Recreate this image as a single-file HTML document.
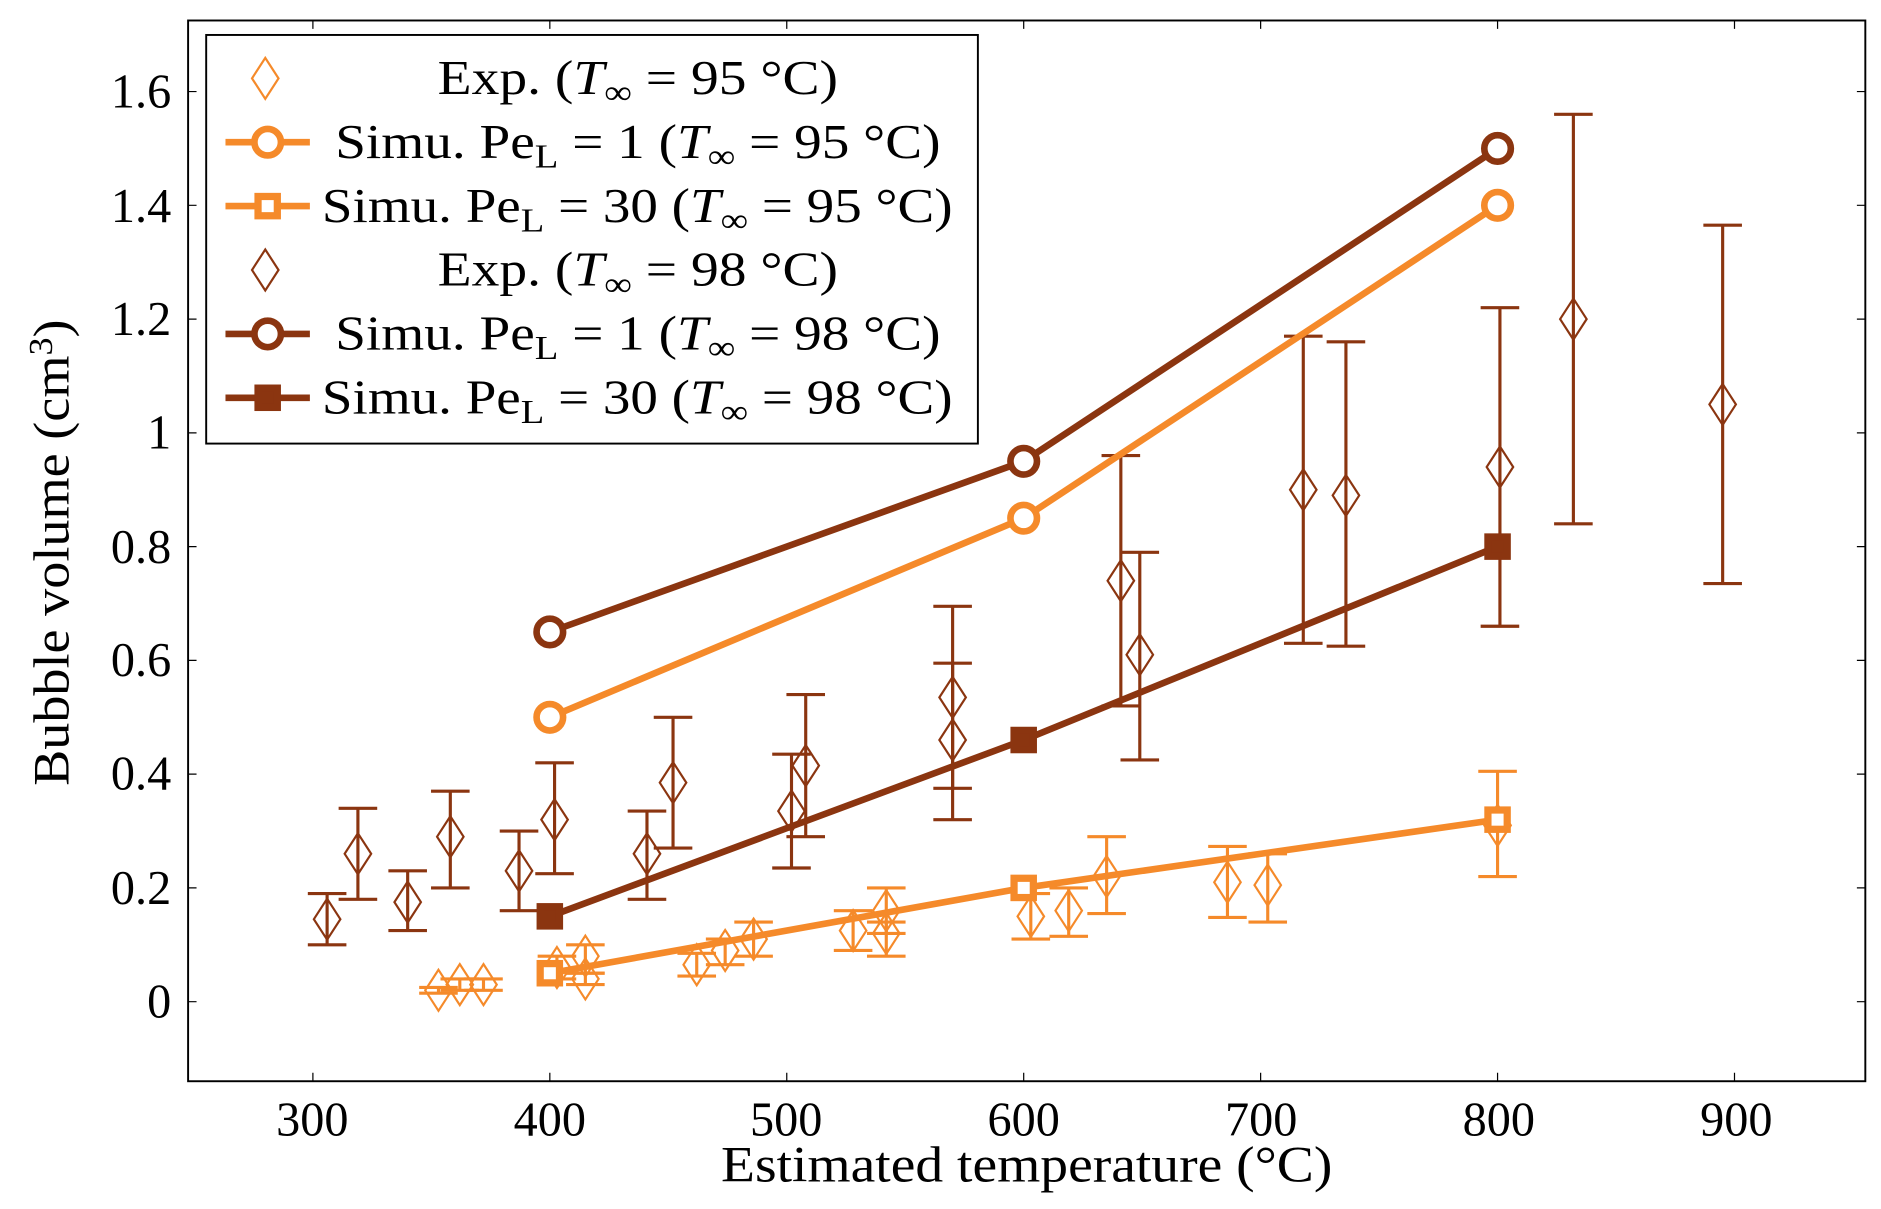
<!DOCTYPE html>
<html><head><meta charset="utf-8"><style>
html,body{margin:0;padding:0;background:#fff}
svg{display:block}
text{font-family:"Liberation Serif",serif;fill:#000}
</style></head><body>
<svg id="s" width="1881" height="1209" viewBox="0 0 1560 1003" preserveAspectRatio="none" xmlns="http://www.w3.org/2000/svg">
<rect x="156" y="17" width="1391" height="880" fill="none" stroke="#000" stroke-width="1.6"/>
<g id="g"></g>
<g font-size="40">
<text x="259" y="942" text-anchor="middle">300</text>
<text x="456" y="942" text-anchor="middle">400</text>
<text x="652" y="942" text-anchor="middle">500</text>
<text x="849" y="942" text-anchor="middle">600</text>
<text x="1046" y="942" text-anchor="middle">700</text>
<text x="1243" y="942" text-anchor="middle">800</text>
<text x="1440" y="942" text-anchor="middle">900</text>
<text x="142" y="844" text-anchor="end">0</text>
<text x="142" y="750" text-anchor="end">0.2</text>
<text x="142" y="655" text-anchor="end">0.4</text>
<text x="142" y="561" text-anchor="end">0.6</text>
<text x="142" y="467" text-anchor="end">0.8</text>
<text x="142" y="372" text-anchor="end">1</text>
<text x="142" y="278" text-anchor="end">1.2</text>
<text x="142" y="184" text-anchor="end">1.4</text>
<text x="142" y="89" text-anchor="end">1.6</text>
</g>
<text x="598" y="980" font-size="42" textLength="507" lengthAdjust="spacingAndGlyphs">Estimated temperature (°C)</text>
<text transform="translate(57,652) rotate(-90)" font-size="42" textLength="387" lengthAdjust="spacingAndGlyphs">Bubble volume (cm<tspan dy="-14" font-size="28">3</tspan><tspan dy="14">)</tspan></text>
<rect x="171" y="29" width="640" height="339" fill="#fff" stroke="#000" stroke-width="1.6"/>
<g id="leg"></g>
<g font-size="40">
<text x="363" y="78" textLength="332" lengthAdjust="spacingAndGlyphs">Exp. (<tspan font-style="italic">T</tspan><tspan font-size="28" dy="8">∞</tspan><tspan dy="-8"> = 95 °C)</tspan></text>
<text x="278" y="131" textLength="502" lengthAdjust="spacingAndGlyphs">Simu. Pe<tspan font-size="28" dy="8">L</tspan><tspan dy="-8"> = 1 (</tspan><tspan font-style="italic">T</tspan><tspan font-size="28" dy="8">∞</tspan><tspan dy="-8"> = 95 °C)</tspan></text>
<text x="267" y="184" textLength="523" lengthAdjust="spacingAndGlyphs">Simu. Pe<tspan font-size="28" dy="8">L</tspan><tspan dy="-8"> = 30 (</tspan><tspan font-style="italic">T</tspan><tspan font-size="28" dy="8">∞</tspan><tspan dy="-8"> = 95 °C)</tspan></text>
<text x="363" y="237" textLength="332" lengthAdjust="spacingAndGlyphs">Exp. (<tspan font-style="italic">T</tspan><tspan font-size="28" dy="8">∞</tspan><tspan dy="-8"> = 98 °C)</tspan></text>
<text x="278" y="290" textLength="502" lengthAdjust="spacingAndGlyphs">Simu. Pe<tspan font-size="28" dy="8">L</tspan><tspan dy="-8"> = 1 (</tspan><tspan font-style="italic">T</tspan><tspan font-size="28" dy="8">∞</tspan><tspan dy="-8"> = 98 °C)</tspan></text>
<text x="267" y="343" textLength="523" lengthAdjust="spacingAndGlyphs">Simu. Pe<tspan font-size="28" dy="8">L</tspan><tspan dy="-8"> = 30 (</tspan><tspan font-style="italic">T</tspan><tspan font-size="28" dy="8">∞</tspan><tspan dy="-8"> = 98 °C)</tspan></text>
</g>
</svg>
<script>
var NS="http://www.w3.org/2000/svg",g=document.getElementById("g"),L=document.getElementById("leg");
var O="#f58a2a",B="#8b3510";
function X(t){return 456+(t-400)*1.965}
function Y(v){return 831-v*471.9}
function el(p,n,a){var e=document.createElementNS(NS,n);for(var k in a)e.setAttribute(k,a[k]);p.appendChild(e);return e}
function dia(p,x,y,c){el(p,"path",{d:"M"+x+","+(y-17)+"L"+(x+11)+","+y+"L"+x+","+(y+17)+"L"+(x-11)+","+y+"Z",fill:"none",stroke:c,"stroke-width":1.8})}
function eb(t,v,lo,hi,c){var x=X(t);el(g,"path",{d:"M"+x+","+Y(lo)+"V"+Y(hi)+"M"+(x-16)+","+Y(lo)+"h32M"+(x-16)+","+Y(hi)+"h32",stroke:c,"stroke-width":2.6,fill:"none"});dia(g,x,Y(v),c)}
[300,400,500,600,700,800,900].forEach(function(t){el(g,"path",{d:"M"+X(t)+",897v-7M"+X(t)+",17v7",stroke:"#000","stroke-width":1})});
[0,0.2,0.4,0.6,0.8,1,1.2,1.4,1.6].forEach(function(v){el(g,"path",{d:"M156,"+Y(v)+"h7M1547,"+Y(v)+"h-7",stroke:"#000","stroke-width":1})});
var ob=[[353,.02,.015,.025],[362,.03,.02,.04],[372,.03,.02,.04],[403,.06,.04,.08],[415,.04,.03,.05],[415,.08,.05,.1],[462,.065,.045,.085],[474,.09,.065,.11],[486,.11,.08,.14],[528,.125,.09,.16],[542,.16,.12,.2],[542,.12,.08,.14],[603,.15,.11,.19],[619,.16,.115,.2],[635,.22,.155,.29],[686,.21,.148,.273],[703,.205,.14,.26],[800,.31,.22,.405]];
var bb=[[306,.145,.1,.19],[319,.26,.18,.34],[340,.175,.125,.23],[358,.29,.2,.37],[387,.23,.16,.3],[402,.32,.225,.42],[441,.26,.18,.335],[452,.385,.27,.5],[502,.335,.235,.435],[508,.415,.29,.54],[570,.535,.375,.695],[570,.46,.32,.595],[641,.74,.52,.96],[649,.61,.425,.79],[718,.9,.63,1.17],[736,.89,.625,1.16],[801,.94,.66,1.22],[832,1.2,.84,1.56],[895,1.05,.735,1.365]];
bb.forEach(function(d){eb(d[0],d[1],d[2],d[3],B)});
ob.forEach(function(d){eb(d[0],d[1],d[2],d[3],O)});
function line(vals,c,m){var T=[400,600,800],d="";T.forEach(function(t,i){d+=(i?"L":"M")+X(t)+","+Y(vals[i])});el(g,"path",{d:d,stroke:c,"stroke-width":5.5,fill:"none"});
T.forEach(function(t,i){mk(g,X(t),Y(vals[i]),c,m)})}
function mk(p,x,y,c,m){if(m=="o")el(p,"circle",{cx:x,cy:y,r:11,fill:"#fff",stroke:c,"stroke-width":5.5});else el(p,"rect",{x:x-8,y:y-8,width:16,height:16,fill:m=="sf"?c:"#fff",stroke:c,"stroke-width":6})}
line([.15,.46,.8],B,"sf");line([.05,.2,.32],O,"s");line([.5,.85,1.4],O,"o");line([.65,.95,1.5],B,"o");
dia(L,220,65,O);dia(L,220,224,B);
[[118,O,"o"],[171,O,"s"],[277,B,"o"],[330,B,"sf"]].forEach(function(r){el(L,"path",{d:"M187,"+r[0]+"h70",stroke:r[1],"stroke-width":5.5});mk(L,222,r[0],r[1],r[2])});
</script>
</body></html>
